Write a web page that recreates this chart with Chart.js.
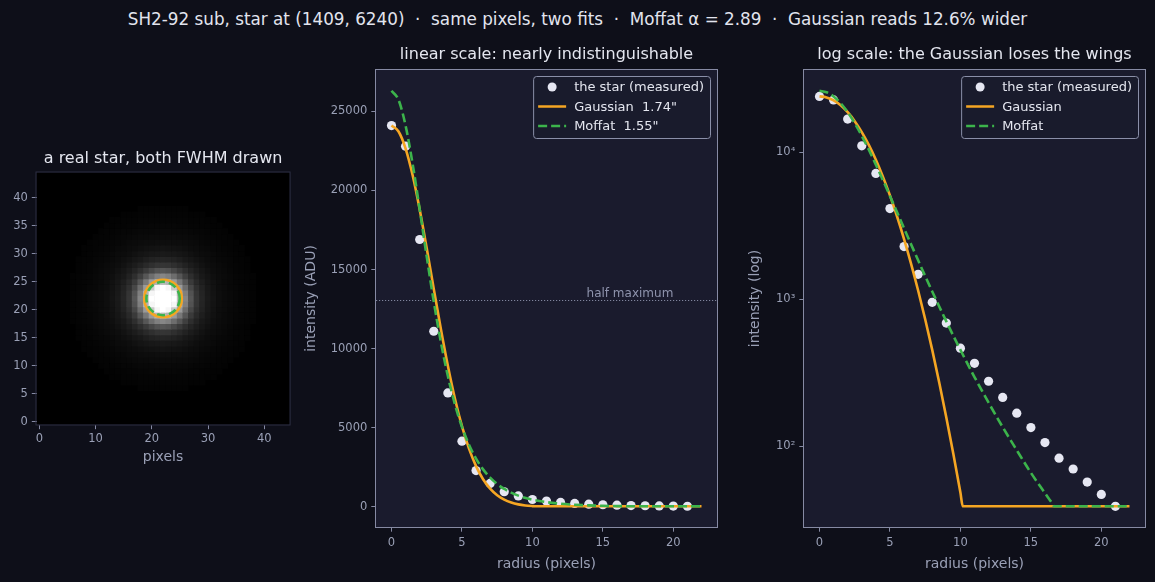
<!DOCTYPE html>
<html>
<head>
<meta charset="utf-8">
<script src="https://cdn.jsdelivr.net/npm/chart.js@4.4.1/dist/chart.umd.min.js"></script>
<style>
  body { margin: 0; background: #0e0f19; width: 1155px; height: 582px; overflow: hidden; position: relative; font-family: "DejaVu Sans", sans-serif; }
  #suptitle { position: absolute; left: 0; top: 9px; width: 1155px; text-align: center; color: #e2e4ee; font-size: 16.8px; white-space: pre; }
  canvas { position: absolute; }
</style>
</head>
<body>
<div id="suptitle">SH2-92 sub, star at (1409, 6240)  ·  same pixels, two fits  ·  Moffat α = 2.89  ·  Gaussian reads 12.6% wider</div>
<canvas id="imgChart" width="300" height="345" style="left:0;top:130px"></canvas>
<canvas id="linChart" width="430" height="540" style="left:300px;top:40px"></canvas>
<canvas id="logChart" width="415" height="540" style="left:740px;top:40px"></canvas>
<script>
// measured radial profile of the star (ADU)
const radius = [0, 1, 2, 3, 4, 5, 6, 7, 8, 9, 10, 11, 12, 13, 14, 15, 16, 17, 18, 19, 20, 21];
const starADU = [24100, 22800, 16900, 11100, 7200, 4150, 2290, 1480, 955, 690, 465, 367, 277, 215, 168, 134, 106, 83, 70, 57, 47, 39];

// fitted curves
const gaussR = [0, 0.5, 1, 1.5, 2, 2.5, 3, 3.5, 4, 4.5, 5, 5.5, 6, 6.5, 7, 7.5, 8, 8.5, 9, 9.5, 10, 10.17, 22];
const gaussADU = [24100, 23729, 22649, 20957, 18799, 16347, 13779, 11261, 8921, 6851, 5101, 3681, 2576, 1747, 1149, 732, 453, 271, 157, 88.6, 48.4, 39, 39];
const moffatR = [0, 0.5, 1, 1.5, 2, 2.5, 3, 3.5, 4, 4.5, 5, 5.5, 6, 6.5, 7, 7.5, 8, 9, 10, 11, 12, 13, 14, 15, 16, 16.5, 16.65, 22];
const moffatADU = [26300, 25724, 24094, 21673, 18803, 15817, 12974, 10433, 8267, 6485, 5055, 3927, 3047, 2368, 1844, 1441, 1132, 708, 453, 296, 198, 135, 94, 66, 48, 41, 39, 39];

const halfMax = 13050;
const gaussFwhmPx = 6.68;
const moffatFwhmPx = 5.93;
const starCenter = [22, 22];
const imgSize = 45;

const radiusTicks = [0, 5, 10, 15, 20];
const linTicks = [0, 5000, 10000, 15000, 20000, 25000];
const logTicks = [100, 1000, 10000];
const imgXTicks = [0, 10, 20, 30, 40];
const imgYTicks = [0, 5, 10, 15, 20, 25, 30, 35, 40];

const SPINE = '#868aa3', TICK = '#9aa0b6', TEXT = '#e4e6ef', AXBG = '#1a1b2d';
const ORANGE = '#f5a623', GREEN = '#3cb44b', DOT = '#e6e7f2';

Chart.defaults.font.family = '"DejaVu Sans", sans-serif';
Chart.defaults.color = TICK;

// chart area background + full box of spines
const frame = {
  id: 'frame',
  beforeDraw(chart, args, o) {
    const { ctx, chartArea: a } = chart;
    ctx.save();
    ctx.fillStyle = o.bg;
    ctx.fillRect(a.left, a.top, a.width, a.height);
    ctx.restore();
  },
  afterDraw(chart, args, o) {
    const { ctx, chartArea: a } = chart;
    ctx.save();
    ctx.strokeStyle = o.spine;
    ctx.lineWidth = 1;
    ctx.strokeRect(a.left - 0.5, a.top - 0.5, a.width + 1, a.height + 1);
    ctx.restore();
  }
};

// panel title centred over the plot area
const panelTitle = {
  id: 'panelTitle',
  afterDraw(chart, args, o) {
    if (!o.text) return;
    const { ctx, chartArea: a } = chart;
    ctx.save();
    ctx.font = '16px "DejaVu Sans"';
    ctx.fillStyle = TEXT;
    ctx.textAlign = 'center';
    ctx.textBaseline = 'middle';
    ctx.fillText(o.text, (a.left + a.right) / 2, a.top - o.gap);
    ctx.restore();
  }
};

// matplotlib style legend inside the top right corner
const insideLegend = {
  id: 'insideLegend',
  afterDatasetsDraw(chart, args, o) {
    if (!o.items) return;
    const { ctx, chartArea: a } = chart;
    ctx.save();
    ctx.font = '13px "DejaVu Sans"';
    const tw = Math.max(...o.items.map(it => ctx.measureText(it.label).width));
    const w = 41 + tw + 6, h = 62;
    const x = a.right - 7 - w, y = a.top + 6;
    ctx.beginPath();
    if (ctx.roundRect) ctx.roundRect(x + 0.5, y + 0.5, w, h, 3); else ctx.rect(x + 0.5, y + 0.5, w, h);
    ctx.fillStyle = 'rgba(26,27,45,0.85)';
    ctx.fill();
    ctx.strokeStyle = '#8a8fa8';
    ctx.lineWidth = 1;
    ctx.stroke();
    o.items.forEach((it, i) => {
      const cy = y + 11 + i * 19.5;
      if (it.kind === 'dot') {
        ctx.beginPath();
        ctx.arc(x + 19, cy, 4.5, 0, Math.PI * 2);
        ctx.fillStyle = DOT;
        ctx.fill();
      } else {
        ctx.beginPath();
        ctx.setLineDash(it.dash || []);
        ctx.moveTo(x + 5, cy);
        ctx.lineTo(x + 33, cy);
        ctx.strokeStyle = it.color;
        ctx.lineWidth = 2.5;
        ctx.stroke();
        ctx.setLineDash([]);
      }
      ctx.fillStyle = TEXT;
      ctx.textBaseline = 'middle';
      ctx.fillText(it.label, x + 41, cy + 1);
    });
    ctx.restore();
  }
};

// dotted half maximum line
const halfMaxLine = {
  id: 'halfMaxLine',
  beforeDatasetsDraw(chart, args, o) {
    if (o.value == null) return;
    const { ctx, chartArea: a, scales } = chart;
    const py = scales.y.getPixelForValue(o.value);
    ctx.save();
    ctx.strokeStyle = 'rgba(140,145,170,0.9)';
    ctx.lineWidth = 1;
    ctx.setLineDash([1.2, 1.8]);
    ctx.beginPath();
    ctx.moveTo(a.left, Math.round(py) + 0.5);
    ctx.lineTo(a.right, Math.round(py) + 0.5);
    ctx.stroke();
    ctx.setLineDash([]);
    ctx.font = '12px "DejaVu Sans"';
    ctx.fillStyle = '#8f94ad';
    ctx.textAlign = 'right';
    ctx.textBaseline = 'bottom';
    ctx.fillText('half maximum', scales.x.getPixelForValue(o.labelX), py - 1);
    ctx.restore();
  }
};

// FWHM circles on the star image
const fwhmCircles = {
  id: 'fwhmCircles',
  afterDatasetsDraw(chart, args, o) {
    if (!o.center) return;
    const { ctx, scales } = chart;
    const cx = scales.x.getPixelForValue(o.center[0]);
    const cy = scales.y.getPixelForValue(o.center[1]);
    const unit = Math.abs(scales.x.getPixelForValue(1) - scales.x.getPixelForValue(0));
    ctx.save();
    ctx.lineWidth = 2.6;
    ctx.strokeStyle = ORANGE;
    ctx.beginPath();
    ctx.arc(cx, cy, o.gauss / 2 * unit, 0, Math.PI * 2);
    ctx.stroke();
    ctx.strokeStyle = GREEN;
    ctx.setLineDash([8, 4]);
    ctx.beginPath();
    ctx.arc(cx, cy, o.moffat / 2 * unit, 0, Math.PI * 2);
    ctx.stroke();
    ctx.restore();
  }
};

Chart.register(frame, panelTitle, insideLegend, halfMaxLine, fwhmCircles);

const pts = (xs, ys) => xs.map((x, i) => ({ x, y: ys[i] }));

// star image: each pixel takes the measured profile at its distance from the centre
function profileAt(d) {
  const last = radius.length - 1;
  if (d >= radius[last]) return starADU[last];
  const i = Math.floor(d), t = d - i;
  return Math.exp(Math.log(starADU[i]) * (1 - t) + Math.log(starADU[i + 1]) * t);
}
const cells = [], cellColors = [];
for (let iy = 0; iy < imgSize; iy++) {
  for (let ix = 0; ix < imgSize; ix++) {
    const d = Math.hypot(ix - starCenter[0], iy - starCenter[1]);
    const v = Math.min(1, Math.max(0, (profileAt(d) - 39) / 16000));
    const g = Math.round(255 * Math.pow(v, 0.8));
    if (g < 3) continue;
    cells.push({ x: ix, y: iy });
    cellColors.push(`rgb(${g},${g},${g})`);
  }
}

const tickFont = { size: 11.5 };
const titleFont = { size: 14 };
const fixedTicks = arr => scale => { scale.ticks = arr.map(v => ({ value: v })); };

new Chart(document.getElementById('imgChart'), {
  type: 'scatter',
  data: {
    datasets: [{
      data: cells,
      backgroundColor: cellColors,
      borderWidth: 0,
      pointStyle: 'rect',
      pointRadius: c => {
        const s = c.chart.scales;
        const u = Math.max(Math.abs(s.x.getPixelForValue(1) - s.x.getPixelForValue(0)),
                           Math.abs(s.y.getPixelForValue(1) - s.y.getPixelForValue(0)));
        return (u + 0.6) * Math.SQRT1_2;
      },
      pointHoverRadius: 0
    }]
  },
  options: {
    responsive: false, animation: false, events: [],
    layout: { padding: { left: 0, right: 10.4, top: 42.5, bottom: 0 } },
    plugins: {
      legend: { display: false }, tooltip: { enabled: false },
      panelTitle: { text: 'a real star, both FWHM drawn', gap: 13.5 },
      frame: { bg: '#000000', spine: '#2c2e42' },
      fwhmCircles: { center: starCenter, gauss: gaussFwhmPx, moffat: moffatFwhmPx }
    },
    scales: {
      x: {
        type: 'linear', min: -0.5, max: imgSize - 0.5,
        afterBuildTicks: fixedTicks(imgXTicks),
        afterFit: s => { s.height = 50.5; },
        grid: { drawOnChartArea: false, tickLength: 4.7, color: SPINE },
        border: { display: false },
        ticks: { font: tickFont, color: TICK, padding: 3, maxRotation: 0 },
        title: { display: true, text: 'pixels', color: TICK, font: titleFont, padding: { top: 0, bottom: 9.6 } }
      },
      y: {
        type: 'linear', min: -0.5, max: imgSize - 0.5,
        afterBuildTicks: fixedTicks(imgYTicks),
        afterFit: s => { s.width = 36.5; },
        grid: { drawOnChartArea: false, tickLength: 4.7, color: SPINE },
        border: { display: false },
        ticks: { font: tickFont, color: TICK, padding: 4 }
      }
    }
  }
});

function profileDatasets() {
  return [
    { label: 'Moffat', data: pts(moffatR, moffatADU), showLine: true, borderColor: GREEN, borderWidth: 2.6, borderDash: [9, 4], pointRadius: 0, cubicInterpolationMode: 'monotone', order: 1 },
    { label: 'Gaussian', data: pts(gaussR, gaussADU), showLine: true, borderColor: ORANGE, borderWidth: 2.6, pointRadius: 0, cubicInterpolationMode: 'monotone', order: 2 },
    { label: 'the star (measured)', data: pts(radius, starADU), showLine: false, backgroundColor: DOT, borderWidth: 0, pointRadius: 4.6, order: 3 }
  ];
}

function radiusAxis() {
  return {
    type: 'linear', min: -1.1, max: 23.1,
    afterBuildTicks: fixedTicks(radiusTicks),
    afterFit: s => { s.height = 53; },
    grid: { drawOnChartArea: false, tickLength: 4.7, color: SPINE },
    border: { display: false },
    ticks: { font: tickFont, color: TICK, padding: 4, maxRotation: 0 },
    title: { display: true, text: 'radius (pixels)', color: TICK, font: titleFont, padding: { top: 0, bottom: 7.6 } }
  };
}

new Chart(document.getElementById('linChart'), {
  type: 'scatter',
  data: { datasets: profileDatasets() },
  options: {
    responsive: false, animation: false, events: [],
    layout: { padding: { left: 0, right: 13, top: 30, bottom: 0 } },
    plugins: {
      legend: { display: false }, tooltip: { enabled: false },
      panelTitle: { text: 'linear scale: nearly indistinguishable', gap: 15 },
      frame: { bg: AXBG, spine: SPINE },
      halfMaxLine: { value: halfMax, labelX: 20 },
      insideLegend: { items: [
        { kind: 'dot', label: 'the star (measured)' },
        { kind: 'line', label: 'Gaussian  1.74"', color: ORANGE },
        { kind: 'line', label: 'Moffat  1.55"', color: GREEN, dash: [9, 4] }
      ] }
    },
    scales: {
      x: radiusAxis(),
      y: {
        type: 'linear', min: -1274, max: 27613,
        afterBuildTicks: fixedTicks(linTicks),
        afterFit: s => { s.width = 76; },
        grid: { drawOnChartArea: false, tickLength: 4.7, color: SPINE },
        border: { display: false },
        ticks: { font: tickFont, color: TICK, padding: 4, callback: v => String(v) },
        title: { display: true, text: 'intensity (ADU)', color: TICK, font: titleFont, padding: { top: 3.1, bottom: 0 } }
      }
    }
  }
});

const sup = { 2: '²', 3: '³', 4: '⁴' };
new Chart(document.getElementById('logChart'), {
  type: 'scatter',
  data: { datasets: profileDatasets() },
  options: {
    responsive: false, animation: false, events: [],
    layout: { padding: { left: 0, right: 10, top: 30, bottom: 0 } },
    plugins: {
      legend: { display: false }, tooltip: { enabled: false },
      panelTitle: { text: 'log scale: the Gaussian loses the wings', gap: 15 },
      frame: { bg: AXBG, spine: SPINE },
      insideLegend: { items: [
        { kind: 'dot', label: 'the star (measured)' },
        { kind: 'line', label: 'Gaussian', color: ORANGE },
        { kind: 'line', label: 'Moffat', color: GREEN, dash: [9, 4] }
      ] }
    },
    scales: {
      x: radiusAxis(),
      y: {
        type: 'logarithmic', min: 28.2, max: 36450,
        afterBuildTicks: fixedTicks(logTicks),
        afterFit: s => { s.width = 64; },
        grid: { drawOnChartArea: false, tickLength: 4.7, color: SPINE },
        border: { display: false },
        ticks: { font: tickFont, color: TICK, padding: 4, callback: v => '10' + sup[Math.round(Math.log10(v))] },
        title: { display: true, text: 'intensity (log)', color: TICK, font: titleFont, padding: { top: 7.1, bottom: 0 } }
      }
    }
  }
});
</script>
</body>
</html>
